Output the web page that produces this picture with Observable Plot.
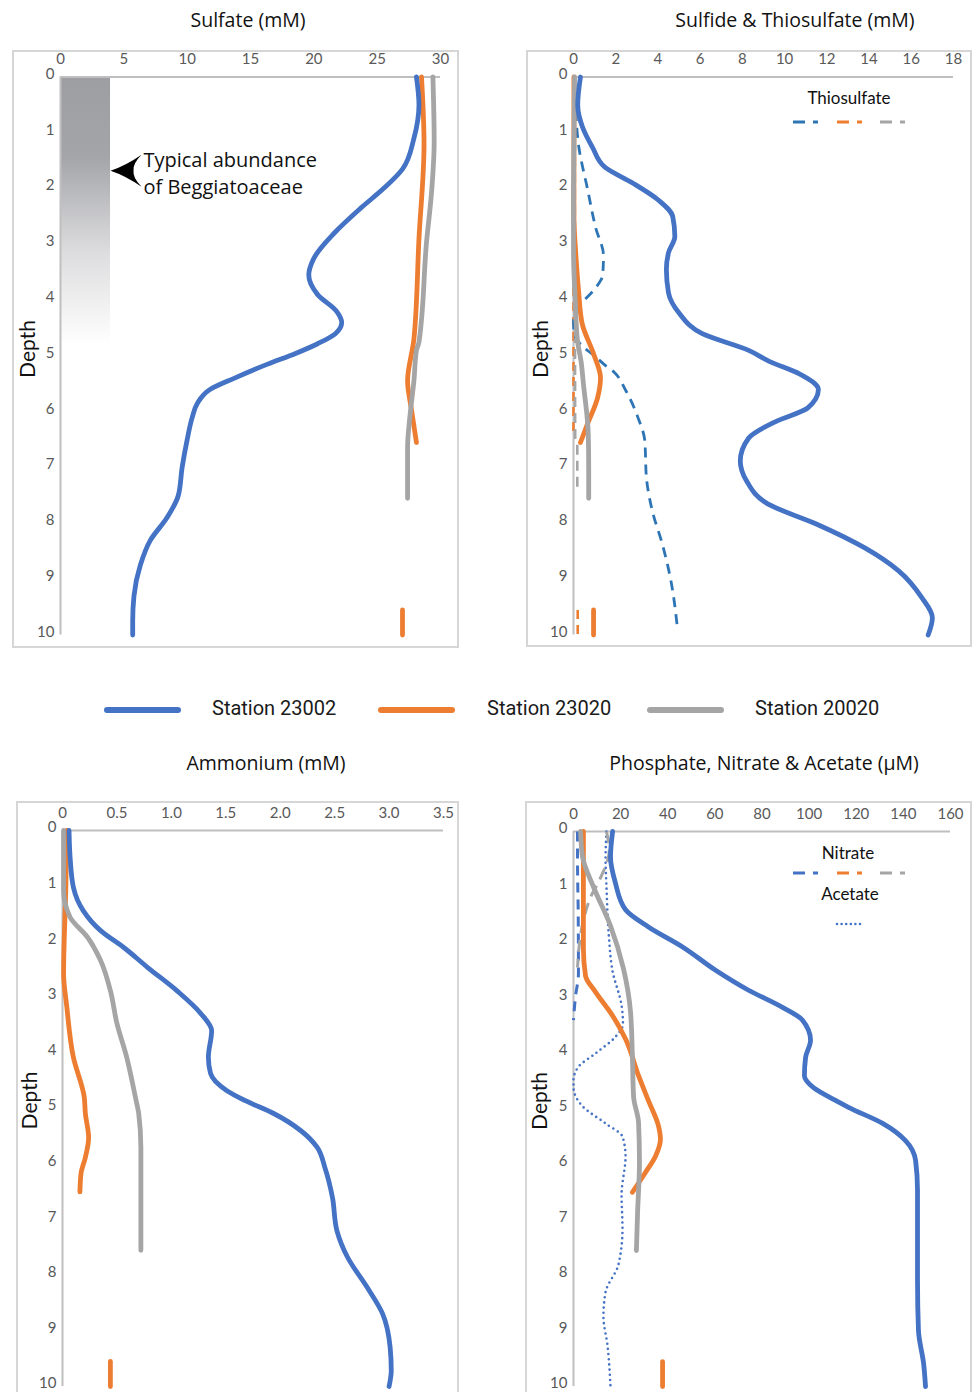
<!DOCTYPE html>
<html><head><meta charset="utf-8">
<script src="https://cdn.jsdelivr.net/npm/d3@7"></script>
<script src="https://cdn.jsdelivr.net/npm/@observablehq/plot@0.6"></script>
<style>
body{margin:0;background:#fff;}
#page{position:relative;width:974px;height:1392px;overflow:hidden;background:#fff;font-family:"Open Sans",sans-serif;}
.title{position:absolute;font-size:19.5px;line-height:24px;text-align:center;color:#111;white-space:nowrap;width:400px;}
.box{position:absolute;border:2px solid #d6d6d6;box-sizing:border-box;pointer-events:none}
.plot{position:absolute}
.leg{position:absolute;font-family:Roboto,sans-serif;font-size:20px;color:#1a1a1a;line-height:24px;white-space:nowrap}
.inleg{position:absolute;font-family:Lato,sans-serif;font-size:17px;color:#111;line-height:22px;white-space:nowrap;text-align:center;width:120px}
</style></head>
<body><div id="page"></div>
<script>
// ---------- data: [depth, value] ----------
const depthTicks = [0,1,2,3,4,5,6,7,8,9,10];
const sulfateTicks = [0,5,10,15,20,25,30];
const sulfideTicks = [0,2,4,6,8,10,12,14,16,18];
const ammoniumTicks = [0,0.5,1.0,1.5,2.0,2.5,3.0,3.5];
const phosphateTicks = [0,20,40,60,80,100,120,140,160];

const stations = ["Station 23002","Station 23020","Station 20020"];
const stationColors = ["#4472C4","#ED7D31","#A5A5A5"];
const thioBlue = "#2E75B6";

// Sulfate (mM)
const sulfate23002 = [[0,28.1],[0.5,28.3],[1.1,27.9],[1.65,27.0],[2.0,25.5],[2.35,23.7],[2.8,21.6],[3.25,20.0],[3.55,19.6],[3.9,20.3],[4.2,21.8],[4.4,22.2],[4.6,21.7],[4.78,20.3],[4.95,18.6],[5.15,16.3],[5.4,13.7],[5.6,11.8],[5.85,10.8],[6.1,10.4],[6.5,10.0],[7.0,9.6],[7.5,9.3],[7.9,8.4],[8.3,7.1],[8.75,6.3],[9.3,5.8],[9.75,5.7],[10,5.7]];
const sulfate23020 = [[0,28.5],[1.2,28.7],[2.9,28.3],[4.7,27.9],[5.45,27.4],[5.95,27.7],[6.55,28.1]];
const sulfate23020deep = [[9.55,27.0],[10,27.0]];
const sulfate20020 = [[0,29.4],[1.15,29.5],[2.05,29.3],[2.95,28.9],[4.75,28.3],[4.9,28.1],[5.45,27.9],[6.05,27.6],[6.65,27.4],[7.55,27.4]];
const beggiatoaDepth = [0,4.8];
const beggiatoaConc = [0,3.95];
const beggiatoaLabel = "Typical abundance\nof Beggiatoaceae";

// Sulfide & thiosulfate (mM)
const sulfide23002 = [[0,0.33],[0.5,0.2],[0.9,0.43],[1.26,0.9],[1.62,1.5],[1.9,2.8],[2.2,4.0],[2.5,4.7],[2.86,4.8],[3.15,4.5],[3.45,4.4],[3.87,4.5],[4.23,5.0],[4.6,6.1],[4.9,8.3],[5.1,9.3],[5.32,10.7],[5.6,11.6],[5.93,11.1],[6.17,9.6],[6.47,8.3],[6.88,7.9],[7.24,8.2],[7.65,9.2],[8.01,11.5],[8.44,13.8],[8.85,15.4],[9.33,16.5],[9.69,17.0],[10,16.8]];
const sulfide23020 = [[0,0.02],[2.5,0.02],[3.12,0.1],[3.83,0.24],[4.42,0.41],[4.96,0.95],[5.39,1.28],[5.75,1.14],[6.22,0.66],[6.55,0.33]];
const sulfide23020deep = [[9.55,0.95],[10,0.95]];
const sulfide20020 = [[0,0.05],[2,0.0],[3.1,0.0],[4.0,0.08],[4.73,0.19],[5.1,0.36],[5.5,0.47],[6.4,0.7],[7.0,0.72],[7.55,0.72]];
const thio23002 = [[0,0.05],[0.55,0.1],[1.25,0.25],[2.0,0.66],[2.7,1.05],[3.2,1.42],[3.55,1.38],[3.78,1.05],[4.07,0.35],[4.35,0.0],[4.55,0.02],[4.8,0.35],[5.0,1.0],[5.15,1.45],[5.3,1.95],[5.6,2.45],[6.1,3.05],[6.5,3.37],[7.2,3.46],[7.8,3.75],[8.36,4.2],[9.0,4.6],[9.9,4.93]];
const thio23020 = [[0,0.0],[6.4,0.0]];
const thio23020deep = [[9.55,0.2],[10,0.2]];
const thio20020 = [[0,0.06],[6.45,0.08],[6.6,0.18],[7.4,0.18]];

// Ammonium (mM)
const amm23002 = [[0,0.06],[0.49,0.07],[1.02,0.1],[1.44,0.19],[1.8,0.35],[2.1,0.56],[2.46,0.78],[2.88,1.05],[3.29,1.27],[3.6,1.37],[4.08,1.34],[4.37,1.36],[4.68,1.51],[4.86,1.68],[5.09,1.94],[5.4,2.19],[5.7,2.34],[6.06,2.41],[6.6,2.48],[7.19,2.52],[7.68,2.62],[8.22,2.8],[8.69,2.94],[9.3,3.01],[9.71,3.02],[10,3.0]];
const amm23020 = [[0,0.04],[1.08,0.03],[2.57,0.01],[3.18,0.04],[4.08,0.1],[4.8,0.2],[5.09,0.21],[5.52,0.24],[5.88,0.21],[6.17,0.17],[6.5,0.16]];
const amm23020deep = [[9.55,0.44],[10,0.44]];
const amm20020 = [[0,0.01],[1.08,0.01],[1.56,0.07],[1.92,0.23],[2.34,0.35],[2.88,0.44],[3.47,0.5],[4.08,0.59],[4.8,0.67],[5.09,0.7],[5.7,0.72],[7.55,0.72]];

// Phosphate, nitrate & acetate (µM)
const phos23002 = [[0,16.6],[0.46,15.7],[0.93,17.8],[1.41,22.1],[1.72,31.8],[2.08,46.3],[2.5,60.3],[2.86,74.3],[3.17,88.7],[3.4,97.2],[3.76,100.6],[4.07,98.5],[4.4,98.0],[4.62,102.0],[4.84,111.0],[4.97,116.7],[5.26,131.2],[5.57,140.9],[5.93,145.2],[6.47,146.0],[8.09,146.0],[8.99,146.4],[9.59,148.6],[10,149.4]];
const phos23020 = [[0,4.2],[1.0,4.2],[2.1,4.2],[2.6,5.1],[2.89,9.3],[3.32,16.6],[3.74,22.1],[4.4,27.6],[4.85,31.8],[5.31,36.1],[5.54,36.9],[5.85,34.8],[6.14,30.6],[6.5,25.0]];
const phos23020deep = [[9.55,37.8],[10,37.8]];
const phos20020 = [[0,3.0],[0.45,3.8],[1.0,8.5],[1.7,15.7],[2.47,21.2],[3.25,24.2],[4.06,25.0],[4.78,25.5],[5.24,27.6],[5.96,28.0],[6.86,27.2],[7.55,26.7]];
const nitrate23002 = [[0,1.7],[0.5,1.7],[1.5,2.0],[2.56,2.1],[2.99,0.8],[3.4,0.0]];
const nitrate23020 = [[0,4.2],[0.45,4.2],[1.5,4.2]];
const nitrate20020 = [[0,14.0],[0.34,15.2],[0.83,11.5],[1.19,7.2],[1.6,4.2],[2.2,2.1],[2.45,1.7]];
const acetate23002 = [[0,14.0],[0.5,13.6],[1.0,14.0],[1.88,15.0],[2.5,16.5],[3.16,20.5],[3.47,21.0],[3.7,17.8],[4.0,9.3],[4.24,2.1],[4.48,0.0],[4.6,0.0],[4.95,3.8],[5.26,13.6],[5.5,20.8],[5.85,22.1],[6.55,20.4],[7.16,20.8],[7.8,19.1],[8.3,13.6],[8.74,12.7],[9.25,14.4],[10,15.7]];

// ---------- helpers ----------
const rows = pairs => pairs.map(([depth, value]) => ({depth, value}));
const curve = "monotone-y";
const solid = (pairs, color) => Plot.line(rows(pairs), {x: "value", y: "depth", curve, stroke: color, strokeWidth: 4.8, strokeLinecap: "round"});
const dashed = (pairs, color, dash, w = 2.8) => Plot.line(rows(pairs), {x: "value", y: "depth", curve, stroke: color, strokeWidth: w, strokeDasharray: dash, strokeLinecap: "butt"});
const dotted = (pairs, color) => Plot.line(rows(pairs), {x: "value", y: "depth", curve, stroke: color, strokeWidth: 2.6, strokeDasharray: "0,5.2", strokeLinecap: "round"});
const [cBlue, cOrange, cGray] = stationColors;

const stealth = {
  draw(ctx, size) {
    const s = Math.sqrt(size / Math.PI) / 10;
    ctx.moveTo(0, 0);
    ctx.quadraticCurveTo(15 * s, -5 * s, 31 * s, -16 * s);
    ctx.quadraticCurveTo(22 * s, -7 * s, 23 * s, 0);
    ctx.quadraticCurveTo(22 * s, 7 * s, 31 * s, 16 * s);
    ctx.quadraticCurveTo(15 * s, 5 * s, 0, 0);
    ctx.closePath();
  }
};

const page = document.getElementById("page");

function makePanel(cfg, xDomain, xTicks, xFormat, marks) {
  const svg = Plot.plot({
    width: cfg.width, height: cfg.height,
    marginLeft: cfg.mL, marginRight: cfg.mR, marginTop: cfg.mT, marginBottom: cfg.mB,
    style: {background: "transparent", fontFamily: "Lato, sans-serif", fontSize: "15px", overflow: "visible"},
    x: {domain: xDomain, label: null},
    y: {domain: [0, 10], reverse: true, label: null},
    marks: [
      ...(cfg.under || []),
      Plot.ruleY([0], {stroke: "#bfbfbf", strokeWidth: 2}),
      Plot.ruleX([0], {stroke: "#bfbfbf", strokeWidth: 2}),
      Plot.axisX(xTicks, {anchor: "top", tickSize: 0, tickPadding: 13, tickFormat: xFormat, color: "#595959", label: null}),
      Plot.axisY(depthTicks, {anchor: "left", tickSize: 0, tickPadding: 6, dy: -3, tickFormat: d => String(d), color: "#595959", label: null}),
      Plot.text(["Depth"], {frameAnchor: "left", textAnchor: "middle", rotate: -90, dx: cfg.labelDx, dy: cfg.labelDy, fontSize: 21, fill: "#111", text: d => d}),
      ...marks
    ]
  });
  svg.classList.add("plot");
  svg.style.left = cfg.left + "px";
  svg.style.top = cfg.top + "px";
  page.appendChild(svg);
  return svg;
}

// ---------- panel 1: sulfate ----------
const p1 = makePanel(
  {left: 0, top: 40, width: 470, height: 620, mL: 60, mR: 30, mT: 36.5, mB: 25.5, labelDx: -32, labelDy: -7,
   under: [Plot.rect([{x1: beggiatoaConc[0], x2: beggiatoaConc[1], y1: beggiatoaDepth[0], y2: beggiatoaDepth[1]}], {x1: "x1", x2: "x2", y1: "y1", y2: "y2", fill: "url(#begGrad)"})]},
  [0, 30], sulfateTicks, undefined,
  [
    solid(sulfate23020, cOrange),
    solid(sulfate23020deep, cOrange),
    solid(sulfate20020, cGray),
    solid(sulfate23002, cBlue),
    Plot.dot([{c: beggiatoaConc[1], d: 1.68}], {x: "c", y: "d", symbol: stealth, r: 10, fill: "#000", stroke: "none"}),
    Plot.text([{c: 6.55, d: 1.70, t: beggiatoaLabel}], {x: "c", y: "d", text: "t", textAnchor: "start", lineAnchor: "middle", fontSize: 20, lineHeight: 1.35, fontFamily: "Open Sans, sans-serif", fill: "#111"})
  ]
);
{
  const defs = d3.select(p1).insert("defs", ":first-child");
  const g = defs.append("linearGradient").attr("id", "begGrad").attr("x1", 0).attr("y1", 0).attr("x2", 0).attr("y2", 1);
  g.append("stop").attr("offset", "0%").attr("stop-color", "#9d9ea2");
  g.append("stop").attr("offset", "30%").attr("stop-color", "#a4a5a9");
  g.append("stop").attr("offset", "65%").attr("stop-color", "#dcdcde");
  g.append("stop").attr("offset", "100%").attr("stop-color", "#ffffff");
}

// ---------- panel 2: sulfide & thiosulfate ----------
makePanel(
  {left: 515, top: 40, width: 459, height: 620, mL: 58, mR: 21, mT: 36.5, mB: 25.5, labelDx: -32, labelDy: -7},
  [0, 18], sulfideTicks, undefined,
  [
    dashed(thio23020, cOrange, "9,6", 2.6),
    dashed(thio20020, cGray, "10,6", 2.6),
    dashed(thio23020deep, cOrange, "9,6", 2.6),
    dashed(thio23002, thioBlue, "10,7", 2.8),
    solid(sulfide23020, cOrange),
    solid(sulfide23020deep, cOrange),
    solid(sulfide20020, cGray),
    solid(sulfide23002, cBlue)
  ]
);

// ---------- panel 3: ammonium ----------
makePanel(
  {left: 0, top: 790, width: 470, height: 602, mL: 62, mR: 27, mT: 40, mB: 6, labelDx: -32, labelDy: -8},
  [0, 3.5], ammoniumTicks, d => d === 0 ? "0" : d.toFixed(1),
  [
    solid(amm23020, cOrange),
    solid(amm23020deep, cOrange),
    solid(amm20020, cGray),
    solid(amm23002, cBlue)
  ]
);

// ---------- panel 4: phosphate, nitrate & acetate ----------
makePanel(
  {left: 515, top: 790, width: 459, height: 602, mL: 58, mR: 24, mT: 41, mB: 6, labelDx: -33, labelDy: -8},
  [0, 160], phosphateTicks, undefined,
  [
    dotted(acetate23002, cBlue),
    dashed(nitrate23002, cBlue, "10,7", 3),
    dashed(nitrate23020, cOrange, "10,7", 3),
    dashed(nitrate20020, cGray, "12,7", 3),
    solid(phos23020, cOrange),
    solid(phos23020deep, cOrange),
    solid(phos20020, cGray),
    solid(phos23002, cBlue)
  ]
);

// ---------- frames, titles, legends ----------
const html = (tag, cls, styleObj, text) => {
  const el = document.createElement(tag);
  if (cls) el.className = cls;
  Object.assign(el.style, styleObj);
  if (text != null) el.textContent = text;
  page.appendChild(el);
  return el;
};
html("div", "box", {left: "12px", top: "50px", width: "447px", height: "598px"});
html("div", "box", {left: "526px", top: "50px", width: "446px", height: "597px"});
html("div", "box", {left: "16px", top: "801px", width: "443px", height: "640px"});
html("div", "box", {left: "525px", top: "801px", width: "447px", height: "640px"});

const titles = [
  ["Sulfate (mM)", 248, 8],
  ["Sulfide & Thiosulfate (mM)", 795, 8],
  ["Ammonium (mM)", 266, 751],
  ["Phosphate, Nitrate & Acetate (µM)", 764, 751]
];
titles.forEach(([t, cx, top]) => html("div", "title", {left: (cx - 200) + "px", top: top + "px"}, t));

// central station legend
const legSvg = d3.select(page).append("svg").attr("width", 974).attr("height", 30)
  .style("position", "absolute").style("left", "0px").style("top", "695px");
const legLines = [[107, 178], [381, 452], [650, 721]];
const legText = [212, 487, 755];
stations.forEach((s, i) => {
  legSvg.append("line").attr("x1", legLines[i][0]).attr("x2", legLines[i][1]).attr("y1", 15).attr("y2", 15)
    .attr("stroke", stationColors[i]).attr("stroke-width", 6).attr("stroke-linecap", "round");
  html("div", "leg", {left: legText[i] + "px", top: "696px"}, s);
});

// in-panel legends
function sampleRow(top, colors, dash, width) {
  const sv = d3.select(page).append("svg").attr("width", 140).attr("height", 10)
    .style("position", "absolute").style("left", "785px").style("top", (top - 5) + "px");
  const xs = [[8, 33], [52, 77], [95, 120]];
  colors.forEach((c, i) => {
    sv.append("line").attr("x1", xs[i][0]).attr("x2", xs[i][1]).attr("y1", 5).attr("y2", 5)
      .attr("stroke", c).attr("stroke-width", width).attr("stroke-dasharray", dash);
  });
  return sv;
}
html("div", "inleg", {left: "789px", top: "87px"}, "Thiosulfate");
sampleRow(122, [thioBlue, cOrange, cGray], "12,8", 3);
html("div", "inleg", {left: "788px", top: "842px"}, "Nitrate");
sampleRow(873, [cBlue, cOrange, cGray], "12,8", 3);
html("div", "inleg", {left: "790px", top: "883px"}, "Acetate");
{
  const sv = d3.select(page).append("svg").attr("width", 40).attr("height", 10)
    .style("position", "absolute").style("left", "832px").style("top", "919px");
  sv.append("line").attr("x1", 5).attr("x2", 28).attr("y1", 5).attr("y2", 5)
    .attr("stroke", cBlue).attr("stroke-width", 2.6).attr("stroke-dasharray", "0,4.6").attr("stroke-linecap", "round");
}
</script>
</body></html>
